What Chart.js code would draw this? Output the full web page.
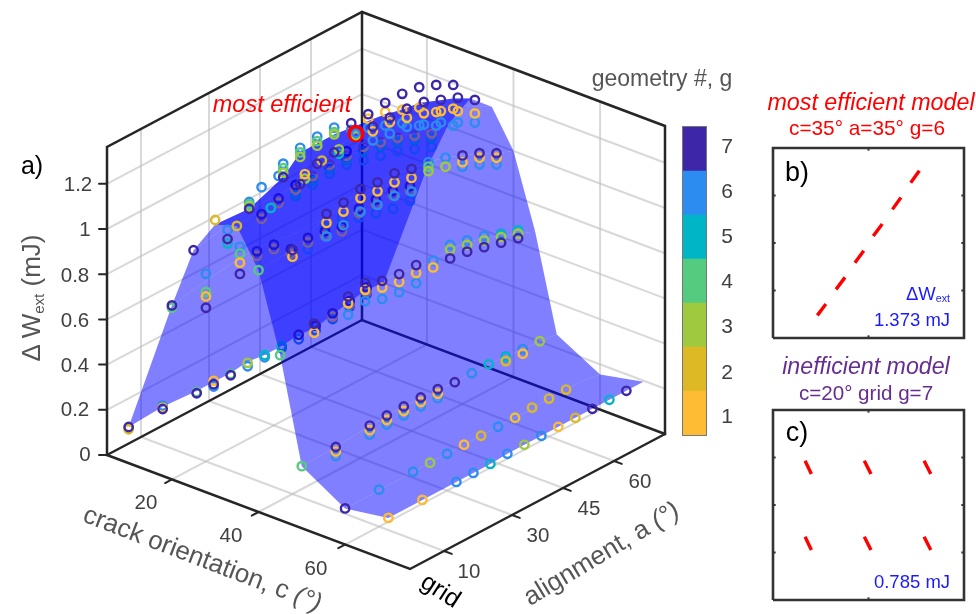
<!DOCTYPE html>
<html>
<head>
<meta charset="utf-8">
<script src="https://cdn.jsdelivr.net/npm/chart.js@4"></script>
<style>
body { margin: 0; background: #fff; font-family: "Liberation Sans", Arial, sans-serif; }
#page { position: relative; width: 976px; height: 614px; overflow: hidden; }
canvas { position: absolute; }
.t { position: absolute; white-space: nowrap; color: #404040; transform: translate(-50%, -50%); line-height: 1; }
.k { color: #000; }
.r { color: #f00; }
.p { color: #662d91; }
.b { color: #1a1aff; }
sub { font-size: 58%; vertical-align: -0.25em; line-height: 0; }
</style>
</head>
<body>
<div id="page">
  <canvas id="main" width="976" height="614" style="left:0;top:0"></canvas>
  <canvas id="bar" width="23" height="308" style="left:683px;top:127px;outline:1px solid #777"></canvas>
  <canvas id="panelB" width="197" height="196" style="left:770px;top:145px"></canvas>
  <canvas id="panelC" width="197" height="196" style="left:770px;top:407px"></canvas>

  <div class="t k" style="left:32px;top:165px;font-size:25px">a)</div>
  <div class="t" style="left:31px;top:298px;font-size:26px;color:#555;transform:translate(-50%,-50%) rotate(-90deg)">&#916; W<sub>ext</sub> (mJ)</div>
  <div class="t" style="left:78px;top:184px;font-size:20.5px">1.2</div>
  <div class="t" style="left:85px;top:229px;font-size:20.5px">1</div>
  <div class="t" style="left:75px;top:275px;font-size:20.5px">0.8</div>
  <div class="t" style="left:75px;top:320px;font-size:20.5px">0.6</div>
  <div class="t" style="left:75px;top:365px;font-size:20.5px">0.4</div>
  <div class="t" style="left:75px;top:409px;font-size:20.5px">0.2</div>
  <div class="t" style="left:85px;top:454px;font-size:20.5px">0</div>

  <div class="t" style="left:146px;top:502px;font-size:20.5px">20</div>
  <div class="t" style="left:231px;top:535px;font-size:20.5px">40</div>
  <div class="t" style="left:316px;top:568px;font-size:20.5px">60</div>
  <div class="t" style="left:469px;top:571px;font-size:20.5px">10</div>
  <div class="t" style="left:538px;top:535px;font-size:20.5px">30</div>
  <div class="t" style="left:589px;top:508px;font-size:20.5px">45</div>
  <div class="t" style="left:640px;top:481px;font-size:20.5px">60</div>
  <div class="t k" style="left:441px;top:590px;font-size:25px;transform:translate(-50%,-50%) rotate(33deg)">grid</div>
  <div class="t" style="left:203px;top:558px;font-size:26px;color:#555;transform:translate(-50%,-50%) rotate(21deg)">crack orientation, c <i>(&#176;)</i></div>
  <div class="t" style="left:601px;top:553px;font-size:26px;color:#555;transform:translate(-50%,-50%) rotate(-31deg)">alignment, a <i>(&#176;)</i></div>
  <div class="t" style="left:662px;top:78px;font-size:23px;color:#555">geometry #, g</div>
  <div class="t r" style="left:282px;top:105px;font-size:23.5px"><i>most efficient</i></div>

  <div class="t" style="left:727px;top:145px;font-size:21px">7</div>
  <div class="t" style="left:727px;top:190px;font-size:21px">6</div>
  <div class="t" style="left:727px;top:235px;font-size:21px">5</div>
  <div class="t" style="left:727px;top:280px;font-size:21px">4</div>
  <div class="t" style="left:727px;top:325px;font-size:21px">3</div>
  <div class="t" style="left:727px;top:371px;font-size:21px">2</div>
  <div class="t" style="left:727px;top:415px;font-size:21px">1</div>

  <div class="t r" style="left:871px;top:103px;font-size:23.3px"><i>most efficient model</i></div>
  <div class="t r" style="left:867px;top:128px;font-size:20.8px">c=35&#176; a=35&#176; g=6</div>
  <div class="t k" style="left:797px;top:172px;font-size:27px">b)</div>
  <div class="t b" style="left:928px;top:294px;font-size:18.5px">&#916;W<sub>ext</sub></div>
  <div class="t b" style="left:912px;top:320px;font-size:18.5px">1.373 mJ</div>
  <div class="t p" style="left:866px;top:367px;font-size:23.2px"><i>inefficient model</i></div>
  <div class="t p" style="left:866px;top:393px;font-size:20.6px">c=20&#176; grid g=7</div>
  <div class="t k" style="left:797px;top:432px;font-size:27px">c)</div>
  <div class="t b" style="left:912px;top:582px;font-size:18.5px">0.785 mJ</div>
</div>

<script>
const _ = null;

// axis ranges and ticks
const zTicks = [0.2, 0.4, 0.6, 0.8, 1, 1.2];
const cTicks = [20, 40, 60];
const aTicks = [10, 30, 45, 60];

// model grid, a=0 is the "grid" alignment
const cValues = [10, 20, 25, 30, 35, 40, 45, 50, 60, 70];
const aValues = [0, 10, 20, 25, 30, 35, 40, 45, 50, 55, 60, 65, 70];
const surfaceA = [0, 10, 20, 25, 30, 35, 40, 45, 50, 55, 60, 65, 70, 75];

// surface height for each c, columns follow surfaceA
const surfaceW = [
    [.16, .17, .16, .16, .16, .17, .16, .16, .17, .16, .18, .195, .21, .2],
    [.77, .8, .82, .82, .82, .8, .8, .8, .8, .8, .8, .8, .8, .78],
    [1.05, 1.08, 1.1, 1.1, 1.1, 1.1, 1.1, 1.1, 1.1, 1.1, 1.08, 1.05, 1.03, 1.01],
    [1.2, 1.19, 1.25, 1.32, 1.32, 1.32, 1.31, 1.3, 1.29, 1.27, 1.26, 1.23, 1.2, 1.16],
    [1.23, 1.25, 1.29, 1.31, 1.34, 1.36, 1.34, 1.33, 1.32, 1.3, 1.28, 1.25, 1.2, 1.16],
    [1.07, 1.08, 1.15, 1.16, 1.18, 1.18, 1.18, 1.16, 1.15, 1.13, 1.1, 1.07, 1.03, 1],
    [.73, .77, .8, .82, .82, .81, .8, .79, .8, .79, .77, .74, .71, .68],
    [.275, .28, .295, .3, .3, .3, .297, .288, .288, .288, .283, .275, .27, .26],
    [.16, .16, .163, .163, .163, .163, .163, .163, .163, .163, .168, .168, .168, .155],
    [.19, .19, .19, .19, .19, .195, .195, .195, .195, .195, .195, .195, .195, .195]
];

// ring values per geometry, keyed by c, columns follow aValues
const ringsG1 = {
    10: [_, .165, _, .165, _, _, _, _, _, _, .17, .185, .2],
    20: [_, .73, .8, .79, .78, .72, .73, .72, .7, .74, .74, .74, .72],
    25: [_, _, 1.03, 1.06, 1.08, 1.1, 1.11, 1.11, 1.11, 1.09, 1.07, 1.04, 1.01],
    30: [_, _, _, _, _, _, _, 1.31, 1.3, 1.27, 1.24, 1.18, 1.155],
    35: [_, _, 1.3, _, _, _, 1.33, 1.33, 1.31, 1.29, 1.26, 1.22, 1.17],
    40: [_, 1.05, 1.12, 1.13, 1.15, 1.14, 1.14, 1.12, _, _, 1.07, 1.05, 1.01],
    45: [_, .75, .8, .82, .79, .775, .775, .76, _, _, _, _, _],
    50: [_, .26, .275, .28, .28, .28, .277, _, _, _, _, .255, _],
    60: [_, _, _, _, _, .163, _, _, .163, _, _, _, _],
    70: [.19, .19, _, _, _, _, _, _, .195, _, _, _, _]
};
const ringsG2 = {
    10: [.15, _, _, _, _, _, _, _, _, _, _, _, _],
    30: [1.22, _, _, _, _, _, _, _, _, _, _, _, _],
    35: [1.23, _, _, 1.32, _, _, _, _, _, _, _, _, _],
    50: [_, _, _, _, _, _, _, _, _, _, .262, _, _],
    60: [_, _, _, _, _, _, .163, _, _, .168, .168, .168, _],
    70: [_, _, _, _, _, _, _, _, _, .195, _, _, _]
};
const ringsG3 = {
    10: [_, _, _, _, _, .165, _, _, _, _, _, _, _],
    30: [_, 1.2, 1.27, 1.3, 1.31, 1.32, _, _, _, _, _, _, _],
    35: [_, _, 1.28, _, 1.33, _, _, _, _, _, _, _, _],
    40: [_, _, _, _, _, _, _, _, 1.11, 1.09, _, _, _],
    45: [_, _, _, _, _, _, _, _, .8, .78, .76, .735, .71],
    50: [_, _, _, _, _, _, _, _, _, _, _, _, .27],
    60: [_, _, _, .163, _, _, _, _, _, _, _, _, _],
    70: [_, _, _, _, _, _, .195, _, _, _, _, _, _]
};
const ringsG4 = {
    10: [_, .165, .155, _, .155, _, _, _, _, _, _, _, _],
    20: [.76, .75, .84, _, _, _, _, _, _, _, _, _, _],
    30: [_, 1.21, 1.29, 1.32, 1.33, 1.33, _, _, _, _, _, _, _],
    40: [1.07, _, _, _, _, _, _, _, 1.13, _, _, _, _],
    45: [.73, _, _, _, _, _, _, _, _, _, _, _, _],
    50: [.275, _, _, _, _, _, _, _, _, _, _, _, _]
};
const ringsG5 = {
    10: [_, _, _, _, _, _, .16, .16, _, _, _, _, _],
    25: [_, 1.0, _, _, 1.06, 1.08, 1.09, 1.09, 1.09, 1.07, 1.05, 1.02, .99],
    35: [_, 1.23, _, _, 1.31, _, _, _, _, _, _, _, _],
    45: [_, _, _, _, _, _, _, _, _, _, _, .745, .725],
    50: [_, _, _, _, _, _, _, _, _, .288, .28, _, _],
    60: [_, _, _, _, _, _, _, _, .163, _, _, _, _],
    70: [_, _, _, _, .19, _, _, _, _, _, _, .195, _]
};
const ringsG6 = {
    10: [_, .175, _, .14, _, .15, .15, .15, .15, .15, .16, .175, .19],
    20: [_, .83, .87, .79, .78, .72, .7, .76, .76, .72, .7, .68, .675],
    25: [_, 1.06, 1.17, 1.18, 1.05, 1.06, 1.07, 1.07, 1.05, 1.03, 1.01, .98, .95],
    30: [_, 1.22, 1.31, 1.34, 1.35, 1.35, 1.3, 1.27, 1.24, 1.21, 1.16, 1.12, 1.08],
    35: [_, _, _, _, _, _, 1.29, 1.28, 1.27, 1.24, 1.21, 1.17, 1.13],
    40: [_, _, 1.06, 1.07, 1.09, 1.08, 1.08, 1.06, 1.15, 1.13, 1.05, 1.02, .98],
    45: [_, _, .75, .77, .74, .73, .73, .79, .82, .8, .78, .75, .725],
    50: [_, .24, .255, .26, .26, .26, .257, _, .288, _, .283, .275, _],
    60: [_, .163, .163, _, .163, _, _, .163, _, _, _, _, _],
    70: [_, _, .19, .19, _, .195, _, .195, _, _, _, _, _]
};
const ringsG7 = {
    10: [.16, .16, .15, .15, .15, _, _, _, .17, .17, .185, .2, .22],
    20: [.77, .68, .75, .81, .8, .74, .75, .74, .72, .76, .76, .76, .74],
    25: [1.05, 1.02, 1.05, 1.08, 1.1, _, _, 1.13, _, _, _, _, _],
    30: [_, 1.19, 1.25, 1.18, 1.23, 1.24, 1.33, 1.33, 1.34, 1.34, 1.33, 1.3, 1.26],
    35: [_, _, _, _, _, _, 1.35, 1.35, 1.35, 1.34, 1.31, 1.28, 1.23],
    40: [_, 1.08, 1.16, 1.17, 1.19, 1.18, 1.18, 1.16, _, _, 1.1, 1.07, 1.03],
    45: [_, .79, .83, .85, .82, .81, .81, _, .76, .75, .73, .71, .69],
    50: [_, .28, .295, .3, .3, .3, .297, .288, _, _, _, _, _],
    60: [.16, _, _, _, _, _, _, _, _, _, _, _, _],
    70: [_, _, _, _, _, _, _, _, _, _, .195, _, .195]
};
const ringOrder = [ringsG6, ringsG5, ringsG4, ringsG3, ringsG2, ringsG1, ringsG7];
const ringColors = ['#2c8cf0', '#00b6c6', '#55cb7f', '#9fc93f', '#dcb925', '#fdbc33', '#3e26a8'];

// rings from this alignment on sit behind the front slope of the ridge
const hiddenFromA = { 10: 45, 20: 25, 25: 20 };
const frontStripFromC = 25;

// the most efficient model and what shows inside its red ring
const bestModel = [{ c: 35, a: 35, w: 1.36 }];
const bestModelInner = [{ c: 35, a: 35, w: 1.35, color: '#9fc93f' }, { c: 35, a: 35, w: 1.36, color: '#2c8cf0' }];

// colourbar, bottom to top
const geometryColors = ['#fdbc33', '#dcb925', '#9fc93f', '#55cb7f', '#00b6c6', '#2c8cf0', '#3e26a8'];

// panels, crack ends in percent of the panel
const cracksB = [
    [23.2, 11.9, 27.7, 17.9], [33, 25.6, 37.7, 31.9], [42.9, 39.6, 47.5, 45.9],
    [52.5, 53.7, 57.2, 60], [62.5, 67.7, 67, 74], [72.1, 81.7, 76.6, 88]
];
const cracksC = [
    [16.8, 73.3, 20.1, 66.3], [47.8, 73.3, 51.3, 66.3], [79.1, 73.3, 82.6, 66.3],
    [16.8, 33.3, 20.1, 26.3], [47.8, 33.3, 51.3, 26.3], [79.1, 33.3, 82.6, 26.3]
];
const panelTicks = [25, 50, 75];

// projection of the 3d box onto the page
const CMIN = 5, CMAX = 75, AMAX = 75, ZTOP = 1.363;
function project(c, a, w) {
    const fc = (c - CMIN) / (CMAX - CMIN);
    const fa = a / AMAX;
    return { x: 107 + 303 * fc + 255 * fa, y: 455 + 114 * fc - 135 * fa - 226 * w };
}

function line(points, color, width) {
    return {
        data: points, showLine: true, pointRadius: 0, borderColor: color, borderWidth: width,
        fill: false, clip: false, borderCapStyle: 'round'
    };
}
function strip(i) {
    const pts = [];
    surfaceA.forEach((a, j) => pts.push(project(cValues[i], a, surfaceW[i][j])));
    for (let j = surfaceA.length - 1; j >= 0; j--) {
        pts.push(project(cValues[i + 1], surfaceA[j], surfaceW[i + 1][j]));
    }
    pts.push(pts[0]);
    return {
        data: pts, showLine: true, pointRadius: 0, borderWidth: 0,
        backgroundColor: 'rgba(0,0,255,0.5)', fill: 'shape'
    };
}
function ringSet(points, color, radius, width) {
    return {
        data: points, showLine: false, pointStyle: 'circle', pointRadius: radius, pointBorderWidth: width,
        pointBorderColor: color, pointBackgroundColor: 'rgba(0,0,0,0)'
    };
}
function rings(series, color, hidden) {
    const pts = [];
    for (const c of cValues) {
        if (!series[c]) continue;
        series[c].forEach((w, j) => {
            if (w === _) return;
            const isHidden = hiddenFromA[c] !== undefined && aValues[j] >= hiddenFromA[c];
            if (isHidden === hidden) pts.push(project(c, aValues[j], w));
        });
    }
    return ringSet(pts, color, 4.2, 2.4);
}

// painted in this order, the list is reversed for Chart.js
const layers = [];
const gridColor = 'rgba(190,190,190,0.6)';
const edgeColor = '#262626';

zTicks.forEach(z => {
    layers.push(line([project(CMIN, 0, z), project(CMIN, AMAX, z), project(CMAX, AMAX, z)], gridColor, 2));
});
aTicks.forEach(a => {
    layers.push(line([project(CMAX, a, 0), project(CMIN, a, 0), project(CMIN, a, ZTOP)], gridColor, 2));
});
cTicks.forEach(c => {
    layers.push(line([project(c, 0, 0), project(c, AMAX, 0), project(c, AMAX, ZTOP)], gridColor, 2));
});
layers.push(line([project(CMIN, 0, 0), project(CMIN, AMAX, 0), project(CMAX, AMAX, 0)], edgeColor, 2.5));
layers.push(line([project(CMIN, AMAX, 0), project(CMIN, AMAX, ZTOP)], edgeColor, 2.5));
layers.push(line([project(CMIN, 0, 0), project(CMIN, 0, ZTOP), project(CMIN, AMAX, ZTOP),
    project(CMAX, AMAX, ZTOP), project(CMAX, AMAX, 0)], edgeColor, 2.5));

for (let i = 0; i < cValues.length - 1; i++) {
    if (cValues[i] < frontStripFromC) layers.push(strip(i));
}
ringOrder.forEach((s, i) => layers.push(rings(s, ringColors[i], true)));
for (let i = 0; i < cValues.length - 1; i++) {
    if (cValues[i] >= frontStripFromC) layers.push(strip(i));
}
ringOrder.forEach((s, i) => layers.push(rings(s, ringColors[i], false)));
layers.push(ringSet(bestModel.map(m => project(m.c, m.a, m.w)), '#f00', 6.8, 3.8));
bestModelInner.forEach(m => layers.push(ringSet([project(m.c, m.a, m.w)], m.color, 3.6, 2.2)));

layers.push(line([project(CMIN, 0, 0), project(CMAX, 0, 0), project(CMAX, AMAX, 0)], edgeColor, 2.5));
cTicks.forEach(c => layers.push(line([project(c, 0, 0), project(c, -2, 0)], edgeColor, 2)));
aTicks.forEach(a => layers.push(line([project(CMAX, a, 0), project(CMAX + 1.8, a, 0)], edgeColor, 2)));
[0].concat(zTicks).forEach(z => {
    const p = project(CMIN, 0, z);
    layers.push(line([p, { x: p.x - 8, y: p.y }], edgeColor, 2));
});

new Chart(document.getElementById('main'), {
    type: 'scatter',
    data: { datasets: layers.reverse() },
    options: {
        responsive: false,
        animation: false,
        layout: { padding: 0, autoPadding: false },
        scales: {
            x: { type: 'linear', min: 0, max: 976, display: false },
            y: { type: 'linear', min: 0, max: 614, reverse: true, display: false }
        },
        plugins: { legend: { display: false }, tooltip: { enabled: false } }
    }
});

// colourbar
new Chart(document.getElementById('bar'), {
    type: 'bar',
    data: {
        labels: ['g'],
        datasets: geometryColors.map(color => ({
            data: [1], backgroundColor: color, borderWidth: 0, barPercentage: 1, categoryPercentage: 1
        }))
    },
    options: {
        responsive: false,
        animation: false,
        layout: { padding: 0, autoPadding: false },
        scales: {
            x: { stacked: true, display: false },
            y: { stacked: true, min: 0, max: 7, display: false }
        },
        plugins: { legend: { display: false }, tooltip: { enabled: false } }
    }
});

function panel(id, cracks, yTicks) {
    const sets = [];
    cracks.forEach(s => {
        sets.push(line([{ x: s[0], y: s[1] }, { x: s[2], y: s[3] }], '#f00', 3.4));
    });
    yTicks.forEach(t => {
        sets.push(line([{ x: 0, y: t }, { x: 1.4, y: t }], '#333', 2));
        sets.push(line([{ x: 98.6, y: t }, { x: 100, y: t }], '#333', 2));
    });
    sets.push(line([{ x: 50, y: 0 }, { x: 50, y: 1.4 }], '#333', 2));
    sets.push(line([{ x: 50, y: 98.6 }, { x: 50, y: 100 }], '#333', 2));
    sets.push(line([{ x: 0, y: 0 }, { x: 100, y: 0 }, { x: 100, y: 100 }, { x: 0, y: 100 }, { x: 0, y: 0 }], '#333', 2.6));
    sets.forEach(d => { d.borderCapStyle = 'butt'; });
    new Chart(document.getElementById(id), {
        type: 'scatter',
        data: { datasets: sets },
        options: {
            responsive: false,
            animation: false,
            layout: { padding: 3, autoPadding: false },
            scales: {
                x: { type: 'linear', min: 0, max: 100, display: false },
                y: { type: 'linear', min: 0, max: 100, display: false }
            },
            plugins: { legend: { display: false }, tooltip: { enabled: false } }
        }
    });
}
panel('panelB', cracksB, panelTicks);
panel('panelC', cracksC, panelTicks);
</script>
</body>
</html>
